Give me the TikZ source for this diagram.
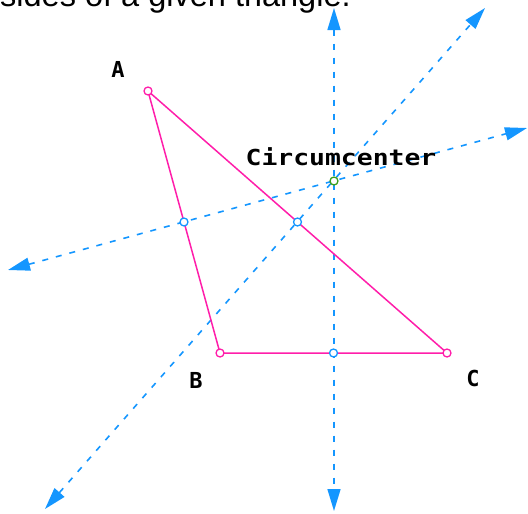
\documentclass[tikz,border=0pt]{standalone}
\usepackage{fontspec}
\setmainfont{Liberation Sans}
\newfontfamily\labfont{DejaVu Sans Mono}
\usetikzlibrary{arrows.meta,calc}
\definecolor{bis}{RGB}{20,150,255}
\definecolor{tri}{RGB}{255,30,170}
\definecolor{ctr}{RGB}{60,160,30}
\begin{document}
\begin{tikzpicture}[x=1pt,y=-1pt,
  bisline/.style={draw=bis,line width=1.6pt,dash pattern=on 6pt off 8pt,
    {Triangle[length=22pt,width=13pt]}-{Triangle[length=22pt,width=13pt]}},
  triline/.style={draw=tri,line width=1.5pt},
  dot/.style={circle,draw=#1,line width=1.3pt,fill=white,inner sep=0pt,minimum size=8pt},
  lab/.style={font=\labfont\bfseries\fontsize{22}{24}\selectfont,inner sep=0pt}
]
\useasboundingbox (0,0) rectangle (528,514);
\clip (0,0) rectangle (528,514);
\node[anchor=base west,inner sep=0pt,font=\fontsize{32.5}{36}\selectfont] (caption) at (0,6) {sides of a given triangle.};
\coordinate (A) at (148,91);
\coordinate (B) at (220,353);
\coordinate (C) at (447,353);
\coordinate (mAB) at ($(A)!0.5!(B)$);
\coordinate (mAC) at ($(A)!0.5!(C)$);
\coordinate (mBC) at ($(B)!0.5!(C)$);
\coordinate (O) at (334,181);
\coordinate (t1) at (334,8);
\coordinate (t2) at (334,511);
\coordinate (t3) at (8,270);
\coordinate (t4) at (527,128);
\coordinate (t5) at (485,8);
\coordinate (t6) at (45,509);
\draw[bisline] (t1) -- (t2);
\draw[bisline] (t3) -- (t4);
\draw[bisline] (t6) -- (t5);
\draw[triline] (A) -- (B) -- (C) -- cycle;
\node[dot=tri] (nA) at (A) {};
\node[dot=tri] (nB) at (B) {};
\node[dot=tri] (nC) at (C) {};
\node[dot=bis] (nAB) at (mAB) {};
\node[dot=bis] (nAC) at (mAC) {};
\node[dot=bis] (nBC) at (mBC) {};
\node[dot=ctr] (nO) at (O) {};
\node[lab] (lA) at (118,69) {A};
\node[lab] (lB) at (196,380) {B};
\node[lab] (lC) at (473,378) {C};
\node[lab,xscale=1.2] (lO) at (341,157) {Circumcenter};
\end{tikzpicture}
\end{document}
